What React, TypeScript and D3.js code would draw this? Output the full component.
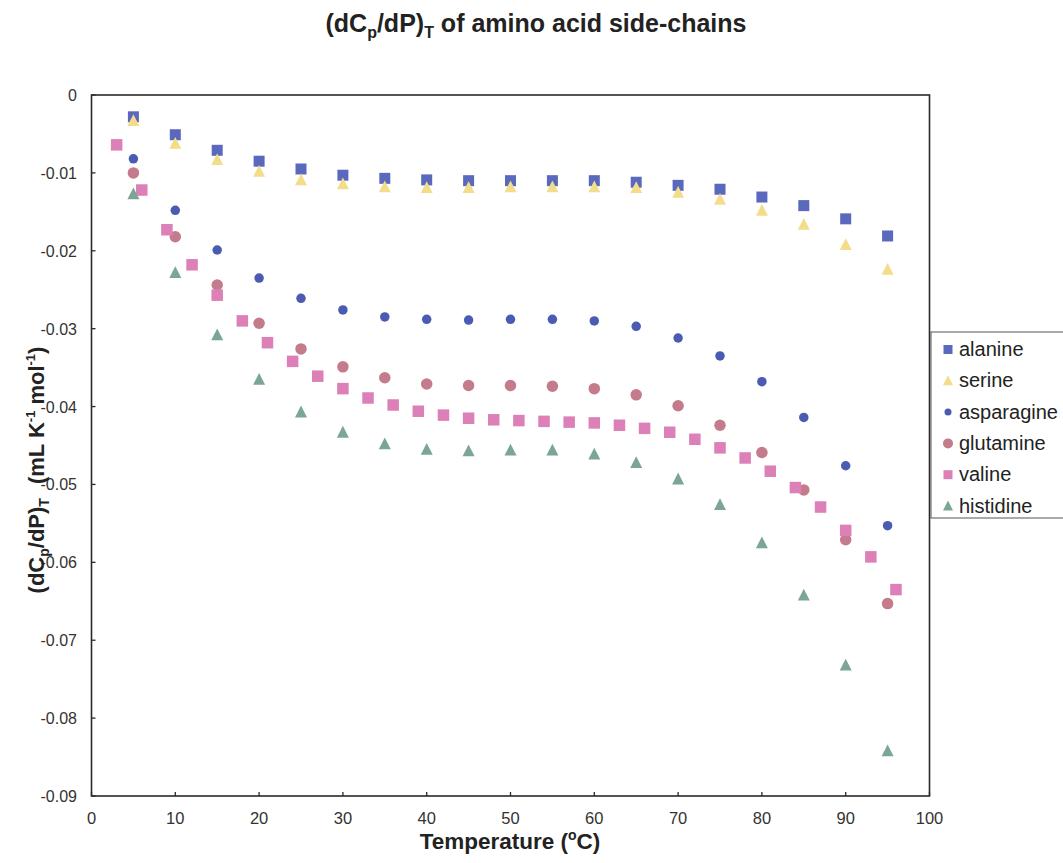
import React from "react";
import * as d3 from "d3";

const alanineX = [5, 10, 15, 20, 25, 30, 35, 40, 45, 50, 55, 60, 65, 70, 75, 80, 85, 90, 95];
const alanineY = [-0.0028, -0.0051, -0.0071, -0.0085, -0.0095, -0.0103, -0.0107, -0.0109, -0.011, -0.011, -0.011, -0.011, -0.0112, -0.0116, -0.0121, -0.0131, -0.0142, -0.0159, -0.0181];

const serineX = [5, 10, 15, 20, 25, 30, 35, 40, 45, 50, 55, 60, 65, 70, 75, 80, 85, 90, 95];
const serineY = [-0.0033, -0.0062, -0.0083, -0.0098, -0.0109, -0.0114, -0.0118, -0.0119, -0.0119, -0.0118, -0.0118, -0.0118, -0.0119, -0.0125, -0.0134, -0.0148, -0.0166, -0.0192, -0.0224];

const asparagineX = [5, 10, 15, 20, 25, 30, 35, 40, 45, 50, 55, 60, 65, 70, 75, 80, 85, 90, 95];
const asparagineY = [-0.0082, -0.0148, -0.0199, -0.0235, -0.0261, -0.0276, -0.0285, -0.0288, -0.0289, -0.0288, -0.0288, -0.029, -0.0297, -0.0312, -0.0335, -0.0368, -0.0414, -0.0476, -0.0553];

const glutamineX = [5, 10, 15, 20, 25, 30, 35, 40, 45, 50, 55, 60, 65, 70, 75, 80, 85, 90, 95];
const glutamineY = [-0.01, -0.0182, -0.0244, -0.0293, -0.0326, -0.0349, -0.0363, -0.0371, -0.0373, -0.0373, -0.0374, -0.0377, -0.0385, -0.0399, -0.0424, -0.0459, -0.0507, -0.0571, -0.0653];

const valineX = [3, 6, 9, 12, 15, 18, 21, 24, 27, 30, 33, 36, 39, 42, 45, 48, 51, 54, 57, 60, 63, 66, 69, 72, 75, 78, 81, 84, 87, 90, 93, 96];
const valineY = [-0.0064, -0.0122, -0.0173, -0.0218, -0.0257, -0.029, -0.0318, -0.0342, -0.0361, -0.0377, -0.0389, -0.0398, -0.0406, -0.0411, -0.0415, -0.0417, -0.0418, -0.0419, -0.042, -0.0421, -0.0424, -0.0428, -0.0433, -0.0442, -0.0453, -0.0466, -0.0483, -0.0504, -0.0529, -0.0559, -0.0593, -0.0635];

const histidineX = [5, 10, 15, 20, 25, 30, 35, 40, 45, 50, 55, 60, 65, 70, 75, 80, 85, 90, 95];
const histidineY = [-0.0127, -0.0228, -0.0308, -0.0365, -0.0407, -0.0433, -0.0448, -0.0455, -0.0457, -0.0456, -0.0456, -0.0461, -0.0472, -0.0493, -0.0526, -0.0575, -0.0642, -0.0732, -0.0842];

const xTicks = [0, 10, 20, 30, 40, 50, 60, 70, 80, 90, 100];
const yTicks = [0, -0.01, -0.02, -0.03, -0.04, -0.05, -0.06, -0.07, -0.08, -0.09];
const yTickLabels = ["0", "-0.01", "-0.02", "-0.03", "-0.04", "-0.05", "-0.06", "-0.07", "-0.08", "-0.09"];

type Shape = "square" | "triangle" | "circle";
const series: { name: string; xs: number[]; ys: number[]; shape: Shape; color: string; size: number; legendSize: number }[] = [
  { name: "alanine", xs: alanineX, ys: alanineY, shape: "square", color: "#5a69bd", size: 11, legendSize: 9 },
  { name: "serine", xs: serineX, ys: serineY, shape: "triangle", color: "#f3dd8a", size: 12, legendSize: 10 },
  { name: "asparagine", xs: asparagineX, ys: asparagineY, shape: "circle", color: "#4a5cb2", size: 9.5, legendSize: 7 },
  { name: "glutamine", xs: glutamineX, ys: glutamineY, shape: "circle", color: "#c47b8b", size: 11.5, legendSize: 10 },
  { name: "valine", xs: valineX, ys: valineY, shape: "square", color: "#dc80b7", size: 11.5, legendSize: 9 },
  { name: "histidine", xs: histidineX, ys: histidineY, shape: "triangle", color: "#7aa693", size: 12, legendSize: 10 },
];

const FONT = "'Liberation Sans', Arial, sans-serif";

function Marker({ shape, cx, cy, size, color }: { shape: Shape; cx: number; cy: number; size: number; color: string }) {
  if (shape === "square") {
    return <rect x={cx - size / 2} y={cy - size / 2} width={size} height={size} fill={color} />;
  }
  if (shape === "circle") {
    return <circle cx={cx} cy={cy} r={size / 2} fill={color} />;
  }
  const h = size * 0.9;
  const p = d3.path();
  p.moveTo(cx, cy - h / 2 - 1);
  p.lineTo(cx + size / 2, cy + h / 2);
  p.lineTo(cx - size / 2, cy + h / 2);
  p.closePath();
  return <path d={p.toString()} fill={color} />;
}

export default function App() {
  const W = 1063;
  const H = 863;
  const x = d3.scaleLinear().domain([0, 100]).range([91.5, 929.5]);
  const y = d3.scaleLinear().domain([0, -0.09]).range([95, 796]);
  const legendBase0 = 356;
  const legendStep = 31.3;

  return (
    <svg width={W} height={H} style={{ position: "absolute", left: 0, top: 0, background: "#fff" }} fontFamily={FONT}>
      <rect x={0} y={0} width={W} height={H} fill="#fff" />
      {/* title */}
      <text x={536} y={32} textAnchor="middle" fontSize={25} fontWeight="bold" fill="#222">
        (dC<tspan dy={6} fontSize={16}>p</tspan>
        <tspan dy={-6}>/dP)</tspan>
        <tspan dy={6} fontSize={16}>T</tspan>
        <tspan dy={-6}> of amino acid side-chains</tspan>
      </text>

      {/* plot frame */}
      <rect x={x(0)} y={y(0)} width={x(100) - x(0)} height={y(-0.09) - y(0)} fill="#fff" stroke="#2a2a2a" strokeWidth={1.6} />

      {/* ticks */}
      {yTicks.map((t, i) => (
        <g key={"yt" + i}>
          <line x1={x(0)} x2={x(0) + 4} y1={y(t)} y2={y(t)} stroke="#2a2a2a" strokeWidth={1.3} />
          <text x={77} y={y(t) + 6} textAnchor="end" fontSize={16} fill="#333">
            {yTickLabels[i]}
          </text>
        </g>
      ))}
      {xTicks.map((t, i) => (
        <g key={"xt" + i}>
          <line x1={x(t)} x2={x(t)} y1={y(-0.09)} y2={y(-0.09) - 4} stroke="#2a2a2a" strokeWidth={1.3} />
          <text x={x(t)} y={824} textAnchor="middle" fontSize={16.5} fill="#333">
            {t}
          </text>
        </g>
      ))}

      {/* axis labels */}
      <text x={510} y={849} textAnchor="middle" fontSize={22.5} fontWeight="bold" fill="#222">
        Temperature (<tspan dy={-9} fontSize={14}>o</tspan>
        <tspan dy={9}>C)</tspan>
      </text>
      <text
        transform={`translate(44,470) rotate(-90)`}
        textAnchor="middle"
        fontSize={22}
        fontWeight="bold"
        fill="#222"
      >
        <tspan>(dC</tspan>
        <tspan dy={5} fontSize={14}>p</tspan>
        <tspan dy={-5}>/dP)</tspan>
        <tspan dy={5} fontSize={14}>T</tspan>
        <tspan dy={-5} dx={14}>(mL K</tspan>
        <tspan dy={-9} fontSize={13}>-1</tspan>
        <tspan dy={9} dx={6}>mol</tspan>
        <tspan dy={-9} fontSize={13}>-1</tspan>
        <tspan dy={9}>)</tspan>
      </text>

      {/* data */}
      {series.map((s) => (
        <g key={s.name}>
          {s.xs.map((xv, i) => (
            <Marker key={i} shape={s.shape} cx={x(xv)} cy={y(s.ys[i])} size={s.size} color={s.color} />
          ))}
        </g>
      ))}

      {/* legend */}
      <rect x={931} y={332} width={140} height={186} fill="#fff" stroke="#555" strokeWidth={1} />
      {series.map((s, i) => (
        <g key={"lg" + s.name}>
          <Marker shape={s.shape} cx={948} cy={legendBase0 + i * legendStep - 6.5} size={s.legendSize} color={s.color} />
          <text x={959} y={legendBase0 + i * legendStep} fontSize={20} fill="#222">
            {s.name}
          </text>
        </g>
      ))}
    </svg>
  );
}
